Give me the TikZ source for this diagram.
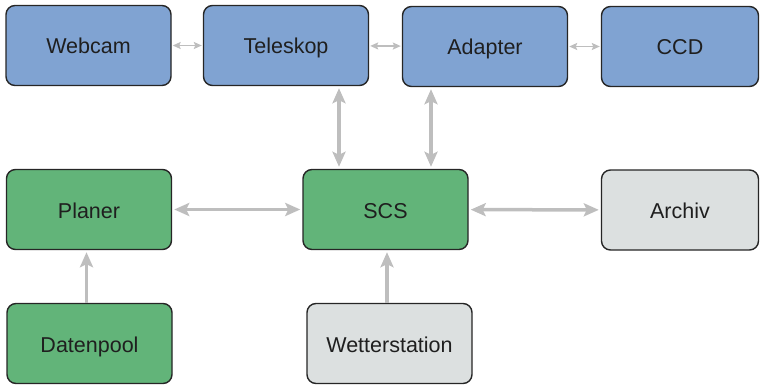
\documentclass[tikz,border=0pt]{standalone}
\usepackage{fontspec}
\setmainfont{Liberation Sans}
\usepackage{xcolor}
\usetikzlibrary{arrows.meta,positioning}

\definecolor{boxblue}{RGB}{128,163,210}
\definecolor{boxgreen}{RGB}{98,180,121}
\definecolor{boxgrey}{RGB}{220,224,224}
\definecolor{linkgrey}{RGB}{190,190,190}

\begin{document}
\begin{tikzpicture}[x=1pt,y=-1pt,
    box/.style={draw=black!85,line width=1.4pt,rounded corners=9pt,
      minimum width=165pt,minimum height=80pt,inner sep=0pt,
      text height=17pt,text depth=0pt,
      font=\fontsize{21.5}{25}\selectfont,text=black!88},
    hw/.style={box,fill=boxblue},
    sw/.style={box,fill=boxgreen},
    ext/.style={box,fill=boxgrey},
    biglink/.style={linkgrey,line width=3.5pt,
      {Stealth[length=15pt,width=13pt,inset=3pt]}-{Stealth[length=15pt,width=13pt,inset=3pt]},
      shorten <=2pt,shorten >=2pt},
    uplink/.style={linkgrey,line width=3.5pt,
      -{Stealth[length=15pt,width=13pt,inset=3pt]},shorten >=2pt},
    smalllink/.style={linkgrey,line width=1.6pt,
      {Stealth[length=8pt,width=7pt,inset=1.5pt]}-{Stealth[length=8pt,width=7pt,inset=1.5pt]},
      shorten <=1pt,shorten >=1pt}]
    \useasboundingbox (0,0) rectangle (760,385);
    % hardware
    \node[hw] (webcam) at (88.5,45.5) {Webcam};
    \node[hw] (teleskop) at (286,45.5) {Teleskop};
    \node[hw] (adapter) at (485,46.5) {Adapter};
    \node[hw,minimum width=157pt] (ccd) at (680,46.5) {CCD};
    % software
    \node[sw] (planer) at (89,209.5) {Planer};
    \node[sw] (scs) at (385.5,209.5) {SCS};
    \node[ext,minimum width=157pt] (archiv) at (680,210) {Archiv};
    \node[sw] (datenpool) at (89.5,343.5) {Datenpool};
    \node[ext] (wetter) at (389.5,343.5) {Wetterstation};
    % links
    \draw[smalllink] (webcam) -- (teleskop);
    \draw[smalllink] (teleskop) -- (adapter);
    \draw[smalllink] (adapter) -- (ccd);
    \draw[biglink] ([xshift=53pt]teleskop.south) -- ([xshift=53pt]teleskop.south |- scs.north);
    \draw[biglink] ([xshift=-54pt]adapter.south) -- ([xshift=-54pt]adapter.south |- scs.north);
    \draw[biglink] (planer) -- (scs);
    \draw[biglink] (scs) -- (archiv);
    \draw[uplink] ([xshift=-3pt]datenpool.north) -- ([xshift=-3pt]datenpool.north |- planer.south);
    \draw[uplink] ([xshift=-2.5pt]wetter.north) -- ([xshift=-2.5pt]wetter.north |- scs.south);
  \end{tikzpicture}
\end{document}
